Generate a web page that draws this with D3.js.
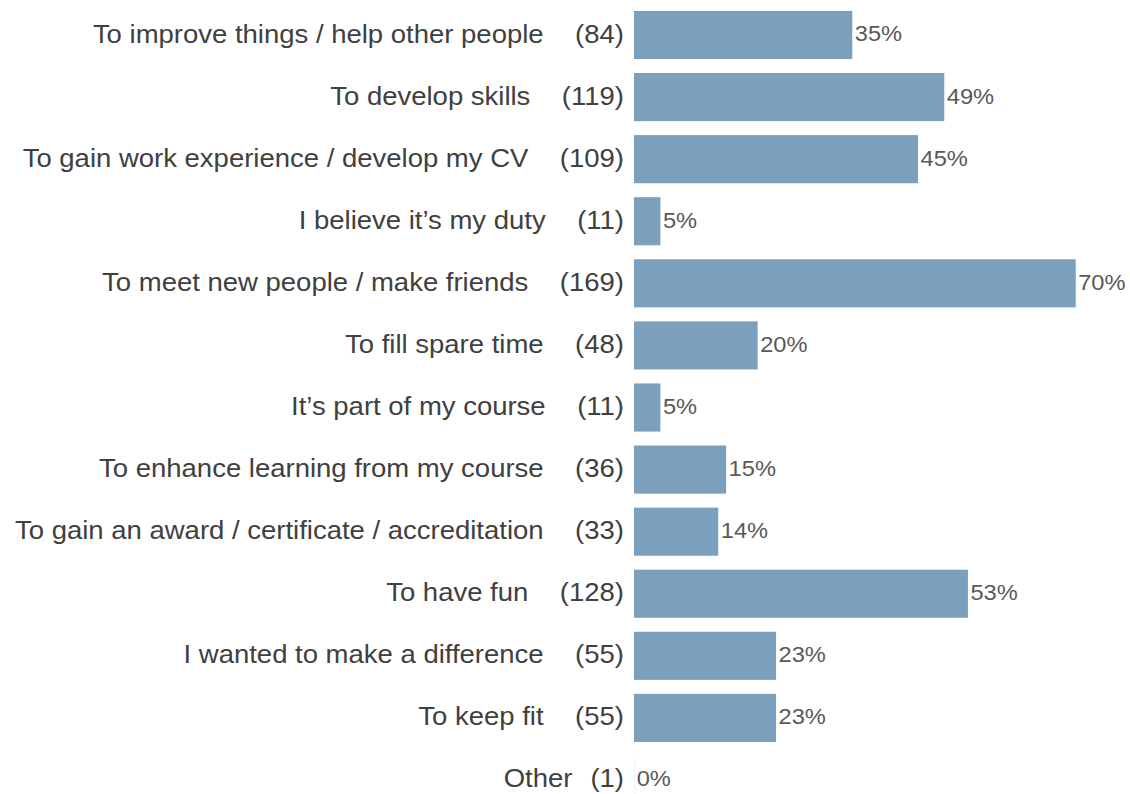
<!DOCTYPE html>
<html><head><meta charset="utf-8">
<script src="https://cdn.jsdelivr.net/npm/d3@7"></script>
<style>
html,body{margin:0;padding:0;background:#fff;}
svg{display:block;font-family:"Liberation Sans",Arial,sans-serif;}
</style></head>
<body><svg id="chart" width="1130" height="794"></svg>
<script>
const categories = [
  "To improve things / help other people",
  "To develop skills",
  "To gain work experience / develop my CV",
  "I believe it\u2019s my duty",
  "To meet new people / make friends",
  "To fill spare time",
  "It\u2019s part of my course",
  "To enhance learning from my course",
  "To gain an award / certificate / accreditation",
  "To have fun",
  "I wanted to make a difference",
  "To keep fit",
  "Other"
];
const counts = [84, 119, 109, 11, 169, 48, 11, 36, 33, 128, 55, 55, 1];
const percentLabels = ["35%", "49%", "45%", "5%", "70%", "20%", "5%", "15%", "14%", "53%", "23%", "23%", "0%"];

const data = categories.map((c, i) => ({cat: c, n: counts[i], p: percentLabels[i]}));
const svg = d3.select("#chart");
const SX = 1.1; // horizontal stretch of the text in the reference

const step = 62.08;
const y = d3.scaleBand().domain(categories)
  .range([35 - step/2, 780 + step/2])
  .paddingInner(0.225).paddingOuter(0.1125);
const x = d3.scaleLinear().domain([0, 169]).range([631.5, 1075.7]);
const barStart = x(0) + 2.5;

svg.append("g").selectAll("rect").data(data).join("rect")
  .attr("x", barStart)
  .attr("y", d => y(d.cat))
  .attr("width", d => Math.max(0, x(d.n) - barStart))
  .attr("height", y.bandwidth())
  .attr("fill", "#7aa0bd");

const baseline = (d, fs) => y(d.cat) + y.bandwidth()/2 + 0.3 * fs;

const LFS = 25, PFS = 21.5;

svg.append("g").selectAll("text").data(data).join("text")
  .attr("transform", d => `translate(${Math.max(x(d.n), barStart) + 2.5},${baseline(d, PFS)}) scale(${SX},1)`)
  .attr("font-size", PFS)
  .attr("fill", "#595959")
  .text(d => d.p);

const countText = svg.append("g").selectAll("text").data(data).join("text")
  .attr("transform", d => `translate(624,${baseline(d, LFS)}) scale(${SX},1)`)
  .attr("text-anchor", "end")
  .attr("font-size", LFS)
  .attr("fill", "#404040")
  .text(d => "(" + d.n + ")");

const widths = countText.nodes().map(n => n.getComputedTextLength() * SX);

svg.append("g").selectAll("text").data(data).join("text")
  .attr("transform", (d, i) => `translate(${624 - widths[i] - (d.n < 10 ? 18 : 31.5)},${baseline(d, LFS)}) scale(${SX},1)`)
  .attr("text-anchor", "end")
  .attr("font-size", LFS)
  .attr("fill", "#404040")
  .text(d => d.cat);
</script>
</body></html>
